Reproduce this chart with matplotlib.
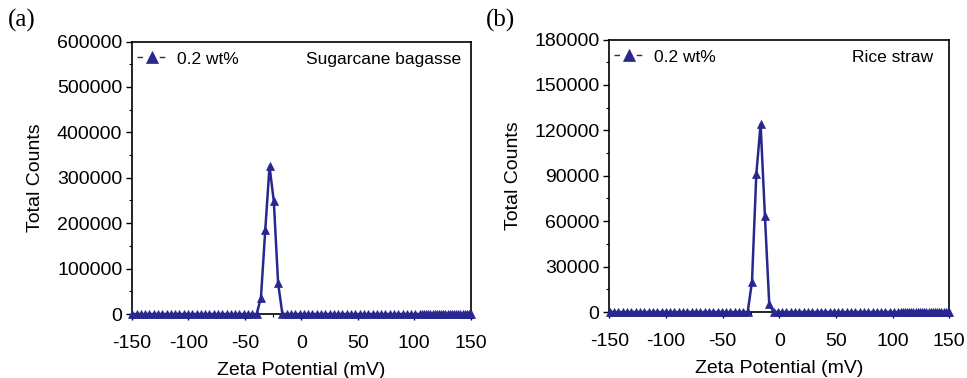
import numpy as np
import matplotlib
matplotlib.use("Agg")
import matplotlib.pyplot as plt
from matplotlib.lines import Line2D
from matplotlib.ticker import MultipleLocator

plt.rcParams["font.family"] = ["Liberation Sans", "DejaVu Sans"]

NAVY = "#27278f"

# (a) Sugarcane bagasse: zero-count channels + peak channels
a_zero_x = [-149.8, -146.0, -142.2, -138.4, -134.6, -130.8, -127.0, -123.2, -119.4, -115.6,
            -111.8, -108.0, -104.2, -100.4, -96.6, -92.8, -89.0, -85.2, -81.4, -77.6,
            -73.8, -70.0, -66.2, -62.4, -58.6, -54.8, -51.0, -47.2, -43.4, -39.6,
            -16.8, -13.0, -9.2, -5.4, -1.6, 2.2, 6.0, 9.8, 13.6, 17.4, 21.2, 25.0,
            28.8, 32.6, 36.4, 40.2, 44.0, 47.8, 51.6, 55.4, 59.2, 63.0, 66.8, 70.6,
            74.4, 78.2, 82.0, 85.8, 89.6, 93.4, 97.2, 101.0, 104.8, 106.7, 108.6,
            110.5, 112.4, 114.3, 116.2, 118.1, 120.0, 121.9, 123.8, 125.7, 127.6,
            129.5, 131.4, 133.3, 135.2, 137.1, 139.0, 140.9, 142.8, 144.7, 146.6,
            148.5, 150.0]
a_peak_x = [-35.8, -32.0, -28.2, -24.4, -20.6]
a_peak_y = [36000, 184000, 325000, 248000, 68000]

# (b) Rice straw
b_zero_x = [-149.5, -145.7, -141.9, -138.1, -134.3, -130.5, -126.7, -122.9, -119.1, -115.3,
            -111.5, -107.7, -103.9, -100.1, -96.3, -92.5, -88.7, -84.9, -81.1, -77.3,
            -73.5, -69.7, -65.9, -62.1, -58.3, -54.5, -50.7, -46.9, -43.1, -39.3,
            -35.5, -31.7, -27.9, -5.1, -1.3, 2.5, 6.3, 10.1, 13.9, 17.7, 21.5, 25.3,
            29.1, 32.9, 36.7, 40.5, 44.3, 48.1, 51.9, 55.7, 59.5, 63.3, 67.1, 70.9,
            74.7, 78.5, 82.3, 86.1, 89.9, 93.7, 97.5, 101.3, 105.1, 107.0, 108.9,
            110.8, 112.7, 114.6, 116.5, 118.4, 120.3, 122.2, 124.1, 126.0, 127.9,
            129.8, 131.7, 133.6, 135.5, 137.4, 139.3, 141.2, 143.1, 145.0, 146.9,
            148.8, 150.0]
b_peak_x = [-24.1, -20.3, -16.5, -12.7, -8.9]
b_peak_y = [20000, 91000, 124000, 63500, 5500]

panels = [
    dict(zero_x=a_zero_x, peak_x=a_peak_x, peak_y=a_peak_y, ymax=600000, ystep=100000,
         name="Sugarcane bagasse", tag="(a)", rect=[0.1365, 0.1693, 0.3503, 0.7209],
         name_x=0.973),
    dict(zero_x=b_zero_x, peak_x=b_peak_x, peak_y=b_peak_y, ymax=180000, ystep=30000,
         name="Rice straw", tag="(b)", rect=[0.6301, 0.1746, 0.3516, 0.7209],
         name_x=0.953),
]

fig = plt.figure(figsize=(9.67, 3.78), dpi=100)

for p in panels:
    ax = fig.add_axes(p["rect"])
    x = np.array(p["zero_x"] + p["peak_x"])
    y = np.array([0] * len(p["zero_x"]) + p["peak_y"])
    order = np.argsort(x)
    ax.plot(x[order], y[order], color=NAVY, lw=1.8, marker="^", markersize=6,
            markeredgewidth=0.5, zorder=3, clip_on=False)

    ax.set_xlim(-150, 150)
    ax.set_ylim(0, p["ymax"])
    ax.xaxis.set_major_locator(MultipleLocator(50))
    ax.xaxis.set_minor_locator(MultipleLocator(25))
    ax.yaxis.set_major_locator(MultipleLocator(p["ystep"]))
    ax.yaxis.set_minor_locator(MultipleLocator(p["ystep"] / 2))
    ax.tick_params(which="major", direction="out", length=4, width=1, labelsize=14,
                   colors="black")
    ax.tick_params(which="minor", direction="out", length=2.5, width=0.8)
    ax.tick_params(axis="x", pad=11)
    ax.tick_params(axis="y", pad=3)
    ax.yaxis.set_major_formatter(plt.FuncFormatter(lambda v, _: f"{v:.0f}"))
    ax.xaxis.set_major_formatter(plt.FuncFormatter(lambda v, _: f"{v:.0f}"))
    for s in ax.spines.values():
        s.set_linewidth(1.2)
        s.set_color("black")

    ax.set_xlabel("Zeta Potential (mV)", fontsize=14, labelpad=7)
    ax.set_ylabel("Total Counts", fontsize=14, labelpad=9)

    handle = Line2D([], [], color=NAVY, lw=1, dashes=(4, 12), marker="^",
                    markersize=9, markeredgewidth=0.5)
    ax.legend([handle], ["0.2 wt%"], loc="center left", bbox_to_anchor=(0.015, 0.936),
              frameon=False, fontsize=12.5, handlelength=1.7, handletextpad=0.58,
              borderaxespad=0.0, borderpad=0.0)
    ax.text(p["name_x"], 0.935, p["name"], transform=ax.transAxes, ha="right",
            va="center", fontsize=12.5)

    fig.text(p["rect"][0] - 0.128, 0.945, p["tag"], fontsize=18,
             family="Liberation Serif", va="center", ha="left")

plt.savefig("out.png", dpi=100)
